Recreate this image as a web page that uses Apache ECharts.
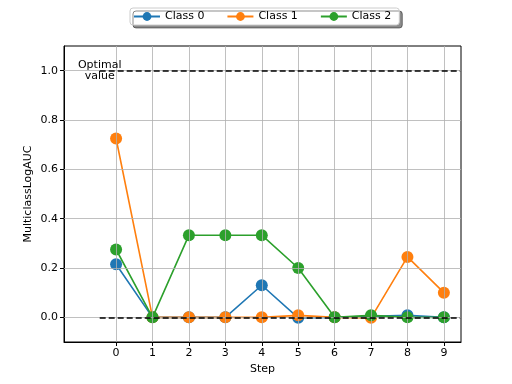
<!DOCTYPE html>
<html><head><meta charset="utf-8">
<script src="https://cdn.jsdelivr.net/npm/echarts@6/dist/echarts.min.js"></script>
<style>html,body{margin:0;padding:0;background:#fff}#c{width:512px;height:384px}</style>
</head><body><div id="c"></div>
<script>
var steps = [0,1,2,3,4,5,6,7,8,9];
var class0 = [0.215,0,0,0,0.13,-0.002,0,0.004,0.008,0];
var class1 = [0.725,0,0,0,0,0.008,0,-0.002,0.245,0.1];
var class2 = [0.275,0,0.333,0.333,0.333,0.2,0,0.008,0,0];
var seriesNames = ['Class 0','Class 1','Class 2'];
var colors = ['#1f77b4','#ff7f0e','#2ca02c'];
var yTicks = [0.0,0.2,0.4,0.6,0.8,1.0];
var optimalLevels = [1.0, 0.0];
var lineStart = -0.45, lineEnd = 9.45;

var font = 'DejaVu Sans';
function pairs(vals){ return steps.map(function(s,i){return [s, vals[i]];}); }
var allVals = [class0, class1, class2];

var series = [{
  type:'line', data:[], silent:true, z:0,
  markLine:{silent:true, symbol:'none', animation:false, label:{show:false},
    lineStyle:{color:'#b0b0b0', type:'solid', width:0.8},
    data: steps.map(function(s){return {xAxis:s};}).concat(yTicks.map(function(v){return {yAxis:v};}))
  }
}];
allVals.forEach(function(v,i){
  series.push({
    name: seriesNames[i], type:'line', data: pairs(v), z:2+i,
    symbol:'circle', symbolSize:12, showAllSymbol:true,
    itemStyle:{color:colors[i]}, lineStyle:{color:colors[i], width:1.6},
    animation:false
  });
});
series.push({
  type:'line', data:[], silent:true, z:10,
  markLine:{silent:true, symbol:'none', animation:false, label:{show:false},
    lineStyle:{color:'#000', type:[6,3], width:1.5},
    data: optimalLevels.map(function(l){return [{coord:[lineStart,l]},{coord:[lineEnd,l]}];})
  },
  markPoint:{silent:true, animation:false, symbolSize:0,
    data:[{coord:[lineStart, optimalLevels[0]], value:0}],
    label:{show:true, position:'inside', formatter:'Optimal\nvalue', color:'#000', fontFamily:font, fontSize:11, lineHeight:11, align:'center'}
  }
});

var chart = echarts.init(document.getElementById('c'));
chart.setOption({
  animation:false,
  textStyle:{fontFamily:font},
  legend:{
    data: seriesNames.map(function(n){return {name:n};}),
    top:8, left:130, itemWidth:26, itemHeight:11, itemGap:22,
    padding:[3,8,3,3],
    borderColor:'#ccc', borderWidth:1, borderRadius:3,
    backgroundColor:'#fff',
    shadowColor:'rgba(0,0,0,0.45)', shadowOffsetX:3, shadowOffsetY:3, shadowBlur:0,
    textStyle:{fontFamily:font, fontSize:11, color:'#000'}
  },
  grid:{left:64, right:51, top:46, bottom:42, show:true, borderColor:'#000', borderWidth:1, backgroundColor:'transparent'},
  xAxis:{
    type:'value', min:-1.43, max:9.47,
    name:'Step', nameLocation:'middle', nameGap:22, nameMoveOverlap:false,
    nameTextStyle:{fontFamily:font, fontSize:11, color:'#000'},
    axisLine:{show:true, onZero:false, lineStyle:{color:'#000'}},
    axisTick:{show:true, customValues:steps, length:4, lineStyle:{color:'#000'}},
    axisLabel:{customValues:steps, fontFamily:font, fontSize:11, color:'#000', margin:6, formatter:function(v){return String(Math.round(v));}},
    splitLine:{show:false}
  },
  yAxis:{
    type:'value', min:-0.1, max:1.1,
    name:'MulticlassLogAUC', nameLocation:'middle', nameGap:30, nameMoveOverlap:false,
    nameTextStyle:{fontFamily:font, fontSize:11, color:'#000'},
    axisLine:{show:true, onZero:false, lineStyle:{color:'#000'}},
    axisTick:{show:true, customValues:yTicks, length:4, lineStyle:{color:'#000'}},
    axisLabel:{customValues:yTicks, fontFamily:font, fontSize:11, color:'#000', margin:6, formatter:function(v){return v.toFixed(1);}},
    splitLine:{show:false}
  },
  series: series
});
</script></body></html>
